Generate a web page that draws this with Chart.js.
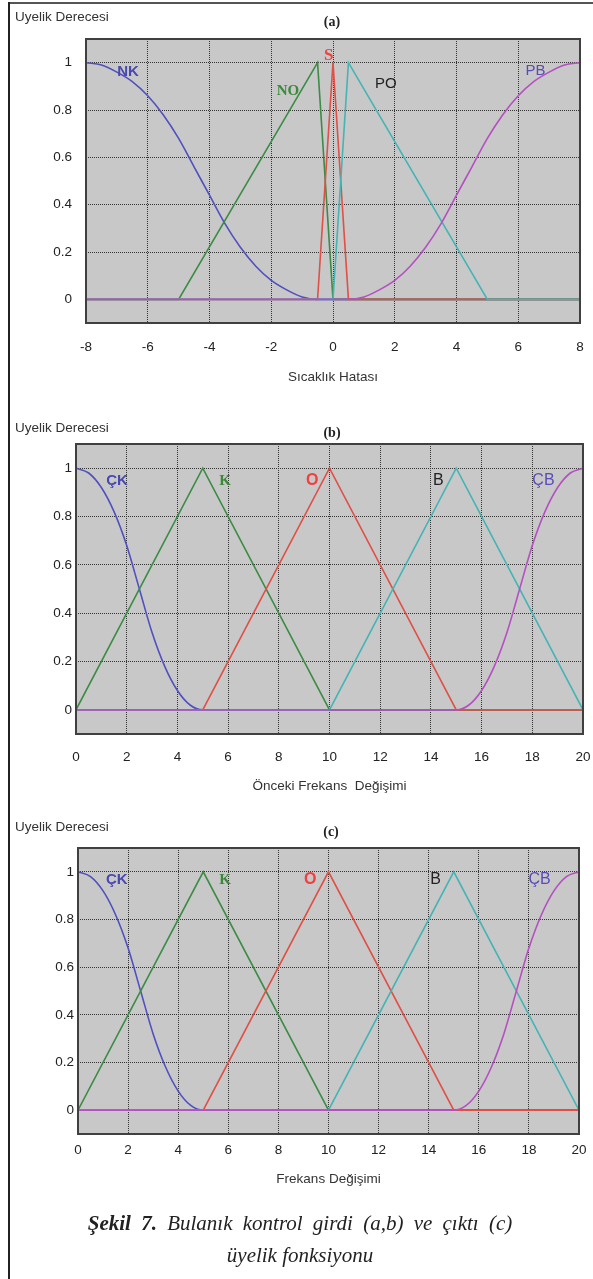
<!DOCTYPE html>
<html>
<head>
<meta charset="utf-8">
<script src="https://cdn.jsdelivr.net/npm/chart.js@4/dist/chart.umd.min.js"></script>
<style>
  body { margin: 0; background: #fff; width: 593px; height: 1279px; position: relative; overflow: hidden;
         font-family: "Liberation Sans", Arial, sans-serif; }
  canvas { position: absolute; left: 0; }
  .ytitle { position: absolute; left: 15px; font-size: 13.5px; line-height: 16px; color: #333; z-index: 2; }
  .ptitle { position: absolute; width: 40px; margin-left: -20px; text-align: center; z-index: 2;
            font-family: "Liberation Serif", "Times New Roman", serif; font-weight: bold; font-size: 14px;
            line-height: 16px; color: #222; }
  .caption { position: absolute; left: 0; width: 600px; text-align: center; z-index: 2;
             font-family: "Liberation Serif", "Times New Roman", serif; font-style: italic; font-size: 21px;
             line-height: 32px; color: #222; }
  .caption .l1 { word-spacing: 5px; }
  #frameTop { position: absolute; left: 8px; right: 0; top: 2px; height: 2px; background: #555; }
  #frameLeft { position: absolute; left: 8px; width: 2px; top: 2px; bottom: 0; background: #222; }
</style>
</head>
<body>
<div id="frameTop"></div>
<div id="frameLeft"></div>

<canvas id="chartA" width="593" height="400" style="top:0px"></canvas>
<canvas id="chartB" width="593" height="410" style="top:400px"></canvas>
<canvas id="chartC" width="593" height="400" style="top:810px"></canvas>

<div class="ytitle" style="top:9px">Uyelik Derecesi</div>
<div class="ptitle" style="left:332px;top:14px">(a)</div>
<div class="ytitle" style="top:420px">Uyelik Derecesi</div>
<div class="ptitle" style="left:332px;top:425px">(b)</div>
<div class="ytitle" style="top:819px">Uyelik Derecesi</div>
<div class="ptitle" style="left:331px;top:824px">(c)</div>

<div class="caption" style="top:1207px"><span class="l1"><b>Şekil 7.</b> Bulanık kontrol girdi (a,b) ve çıktı (c)</span><br>üyelik fonksiyonu</div>

<script>
// colours of the five membership functions, in drawing order
var COLORS = ['#5050c0', '#3c8c46', '#e05046', '#46b4b4', '#b450c0'];
var GRID = '#333333';

var yTicks = [0, 0.2, 0.4, 0.6, 0.8, 1];

// (a) Sıcaklık Hatası
var aTicksX = [-8, -6, -4, -2, 0, 2, 4, 6, 8];
var aNames = ['NK', 'NO', 'S', 'PO', 'PB'];
var aNkX = [-8, -7.5, -7, -6.5, -6, -5.5, -5, -4.5, -4, -3.5, -3, -2.5, -2, -1.5, -1, -0.5, 8];
var aNkY = [1, 0.99, 0.96, 0.92, 0.86, 0.78, 0.68, 0.56, 0.44, 0.32, 0.22, 0.14, 0.08, 0.04, 0.01, 0, 0];
var aNoX = [-8, -5, -0.5, 0, 8];
var aNoY = [0, 0, 1, 0, 0];
var aSX = [-8, -0.5, 0, 0.5, 8];
var aSY = [0, 0, 1, 0, 0];
var aPoX = [-8, 0, 0.5, 5, 8];
var aPoY = [0, 0, 1, 0, 0];
var aPbX = [-8, 0.5, 1, 1.5, 2, 2.5, 3, 3.5, 4, 4.5, 5, 5.5, 6, 6.5, 7, 7.5, 8];
var aPbY = [0, 0, 0.01, 0.04, 0.08, 0.14, 0.22, 0.32, 0.44, 0.56, 0.68, 0.78, 0.86, 0.92, 0.96, 0.99, 1];
// where the set names sit (data units)
var aLabelX = [-6.64, -1.46, -0.14, 1.71, 6.56];
var aLabelY = [0.96, 0.88, 1.03, 0.91, 0.965];

// (b) Önceki Frekans Değişimi and (c) Frekans Değişimi use the same sets
var fTicksX = [0, 2, 4, 6, 8, 10, 12, 14, 16, 18, 20];
var fNames = ['ÇK', 'K', 'O', 'B', 'ÇB'];
var fCkX = [0, 0.5, 1, 1.5, 2, 2.5, 3, 3.5, 4, 4.5, 5, 20];
var fCkY = [1, 0.98, 0.92, 0.82, 0.68, 0.5, 0.32, 0.18, 0.08, 0.02, 0, 0];
var fKX = [0, 5, 10, 20];
var fKY = [0, 1, 0, 0];
var fOX = [0, 5, 10, 15, 20];
var fOY = [0, 0, 1, 0, 0];
var fBX = [0, 10, 15, 20];
var fBY = [0, 0, 1, 0];
var fCbX = [0, 15, 15.5, 16, 16.5, 17, 17.5, 18, 18.5, 19, 19.5, 20];
var fCbY = [0, 0, 0.02, 0.08, 0.18, 0.32, 0.5, 0.68, 0.82, 0.92, 0.98, 1];
var bLabelX = [1.62, 5.88, 9.32, 14.29, 18.44];
var bLabelY = [0.947, 0.947, 0.947, 0.95, 0.95];
var cLabelX = [1.55, 5.87, 9.27, 14.27, 18.43];
var cLabelY = [0.965, 0.965, 0.968, 0.968, 0.968];

var SANS = '"Liberation Sans", Arial, sans-serif';
var SERIF = '"Liberation Serif", "Times New Roman", serif';

// grey plot box, frame and set names
var plotDecor = {
  id: 'plotDecor',
  beforeDraw: function(chart) {
    var a = chart.chartArea, ctx = chart.ctx;
    ctx.save();
    ctx.fillStyle = '#c8c8c8';
    ctx.fillRect(a.left, a.top, a.right - a.left, a.bottom - a.top);
    ctx.restore();
  },
  afterDatasetsDraw: function(chart, args, opts) {
    var a = chart.chartArea, ctx = chart.ctx;
    ctx.save();
    ctx.strokeStyle = '#404040';
    ctx.lineWidth = 2;
    ctx.strokeRect(a.left, a.top, a.right - a.left, a.bottom - a.top);
    ctx.textAlign = 'center';
    ctx.textBaseline = 'middle';
    opts.names.forEach(function(n, i) {
      ctx.font = opts.fonts[i];
      ctx.fillStyle = opts.colors[i];
      ctx.fillText(n, chart.scales.x.getPixelForValue(opts.x[i]), chart.scales.y.getPixelForValue(opts.y[i]));
    });
    ctx.restore();
  }
};

function buildChart(id, p) {
  var datasets = p.xs.map(function(xs, i) {
    return {
      label: p.names[i],
      data: xs.map(function(x, j) { return { x: x, y: p.ys[i][j] }; }),
      borderColor: COLORS[i],
      borderWidth: 1.6,
      pointRadius: 0,
      fill: false,
      tension: 0,
      cubicInterpolationMode: p.smooth[i] ? 'monotone' : 'default',
      order: p.xs.length - i // later sets are drawn on top
    };
  });

  var tickFont = { family: SANS, size: 13.5 };
  var noPad = function(s) { s.paddingLeft = 0; s.paddingRight = 0; s.paddingTop = 0; s.paddingBottom = 0; };

  new Chart(document.getElementById(id), {
    type: 'line',
    data: { datasets: datasets },
    plugins: [plotDecor],
    options: {
      responsive: false,
      animation: false,
      devicePixelRatio: 1,
      layout: { padding: { top: p.padTop, right: p.padRight, left: 0, bottom: 0 } },
      plugins: {
        legend: { display: false },
        tooltip: { enabled: false },
        plotDecor: {
          names: p.names, x: p.labelX, y: p.labelY,
          fonts: p.labelFonts, colors: p.labelColors
        }
      },
      scales: {
        x: {
          type: 'linear',
          min: p.ticksX[0],
          max: p.ticksX[p.ticksX.length - 1],
          afterBuildTicks: function(s) { s.ticks = p.ticksX.map(function(v) { return { value: v }; }); },
          afterFit: function(s) { s.height = p.xAxisH; noPad(s); },
          grid: { color: GRID, lineWidth: 1, drawTicks: false },
          border: { display: false, dash: [1, 1] },
          ticks: {
            padding: p.xPad, color: '#222', font: tickFont, maxRotation: 0, autoSkip: false,
            callback: function(v) { return String(v); }
          },
          title: {
            display: true, text: p.xTitle, color: '#333',
            font: { family: SANS, size: 13.5 }, padding: { top: 0, bottom: p.titlePad }
          }
        },
        y: {
          min: -0.1,
          max: 1.1,
          afterBuildTicks: function(s) { s.ticks = yTicks.map(function(v) { return { value: v }; }); },
          afterFit: function(s) { s.width = p.yAxisW; noPad(s); },
          grid: { color: GRID, lineWidth: 1, drawTicks: false },
          border: { display: false, dash: [1, 1] },
          ticks: {
            padding: p.yPad, color: '#222', font: tickFont,
            callback: function(v) { return String(v); }
          }
        }
      }
    }
  });
}

var labelColors = ['#4848b0', '#3a8a3a', '#f04040', '#222', '#5a4cb8'];

buildChart('chartA', {
  names: aNames,
  xs: [aNkX, aNoX, aSX, aPoX, aPbX],
  ys: [aNkY, aNoY, aSY, aPoY, aPbY],
  smooth: [true, false, false, false, true],
  ticksX: aTicksX,
  xTitle: 'Sıcaklık Hatası',
  labelX: aLabelX, labelY: aLabelY,
  labelFonts: ['bold 15px ' + SANS, 'bold 15px ' + SERIF, 'bold 17px ' + SERIF, '15px ' + SANS, '15px ' + SANS],
  labelColors: labelColors,
  padTop: 39, padRight: 13, yAxisW: 86, xAxisH: 77, xPad: 16, titlePad: 15, yPad: 14
});

buildChart('chartB', {
  names: fNames,
  xs: [fCkX, fKX, fOX, fBX, fCbX],
  ys: [fCkY, fKY, fOY, fBY, fCbY],
  smooth: [true, false, false, false, true],
  ticksX: fTicksX,
  xTitle: 'Önceki Frekans  Değişimi',
  labelX: bLabelX, labelY: bLabelY,
  labelFonts: ['bold 15px ' + SANS, 'bold 15px ' + SERIF, 'bold 16px ' + SANS, '16px ' + SANS, '16px ' + SANS],
  labelColors: labelColors,
  padTop: 44, padRight: 10, yAxisW: 76, xAxisH: 76, xPad: 15, titlePad: 16, yPad: 4
});

buildChart('chartC', {
  names: fNames,
  xs: [fCkX, fKX, fOX, fBX, fCbX],
  ys: [fCkY, fKY, fOY, fBY, fCbY],
  smooth: [true, false, false, false, true],
  ticksX: fTicksX,
  xTitle: 'Frekans Değişimi',
  labelX: cLabelX, labelY: cLabelY,
  labelFonts: ['bold 15px ' + SANS, 'bold 15px ' + SERIF, 'bold 16px ' + SANS, '16px ' + SANS, '16px ' + SANS],
  labelColors: labelColors,
  padTop: 38, padRight: 14, yAxisW: 78, xAxisH: 76, xPad: 8, titlePad: 23, yPad: 4
});
</script>
</body>
</html>
